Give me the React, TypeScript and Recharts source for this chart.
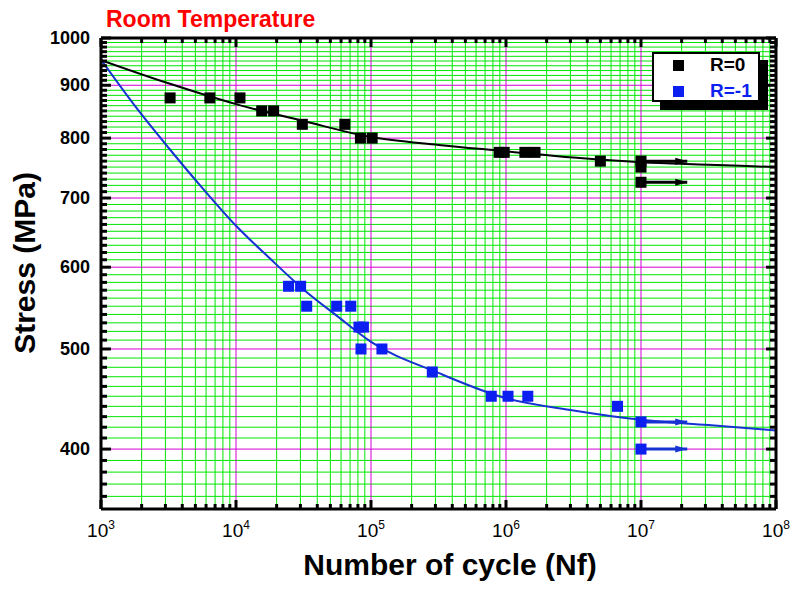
import React from 'react';
import { ComposedChart, Line, Scatter, XAxis, YAxis, CartesianGrid } from 'recharts';

const FONT = '"Liberation Sans", Arial, Helvetica, sans-serif';

// axis ticks
const cycleTicks = [1e3, 1e4, 1e5, 1e6, 1e7, 1e8];
const cycleMinor = [
  2e3, 3e3, 4e3, 5e3, 6e3, 7e3, 8e3, 9e3,
  2e4, 3e4, 4e4, 5e4, 6e4, 7e4, 8e4, 9e4,
  2e5, 3e5, 4e5, 5e5, 6e5, 7e5, 8e5, 9e5,
  2e6, 3e6, 4e6, 5e6, 6e6, 7e6, 8e6, 9e6,
  2e7, 3e7, 4e7, 5e7, 6e7, 7e7, 8e7, 9e7,
];
const stressTicks = [400, 500, 600, 700, 800, 900, 1000];
const stressMinor = [
  360, 370, 380, 390,
  410, 420, 430, 440, 450, 460, 470, 480, 490,
  510, 520, 530, 540, 550, 560, 570, 580, 590,
  610, 620, 630, 640, 650, 660, 670, 680, 690,
  710, 720, 730, 740, 750, 760, 770, 780, 790,
  810, 820, 830, 840, 850, 860, 870, 880, 890,
  910, 920, 930, 940, 950, 960, 970, 980, 990,
];

// R=0 tests
const r0Cycles = [3250, 6400, 10700, 15500, 19000, 31000, 64000, 83500, 102000, 890000, 970000, 1380000, 1640000, 5000000, 10000000, 10000000, 10000000];
const r0Stress = [875, 875, 875, 850, 850, 825, 825, 800, 800, 775, 775, 775, 775, 760, 760, 750, 725];

// R=-1 tests
const rm1Cycles = [24500, 30100, 33400, 55700, 70800, 81400, 87900, 84300, 120500, 284500, 778000, 1035000, 1450000, 6700000, 10000000, 10000000];
const rm1Stress = [575, 575, 550, 550, 550, 525, 525, 500, 500, 475, 450, 450, 450, 440, 425, 400];

// fitted curves
const r0FitCycles = [1e3, 3162, 1e4, 31620, 1e5, 316200, 1e6, 3162000, 1e7, 31620000, 1e8];
const r0FitStress = [952, 904, 863, 831, 802, 788, 777, 766, 758, 754, 750];
const rm1FitCycles = [1e3, 1778, 3162, 5623, 1e4, 17780, 31620, 56230, 1e5, 316200, 1e6, 3162000, 1e7, 31620000, 1e8];
const rm1FitStress = [953, 860, 783, 716, 658, 612, 571, 538, 508, 474, 448, 436, 427, 422, 417];

// run-outs (arrows)
const runoutStart = 1e7;
const runoutEnd = 2.2e7;
const r0Runouts = [760, 725];
const rm1Runouts = [425, 400];

const BLUE = '#0b1ff0';
const BLUE_LINE = '#1632d2';

const zip = (n: number[], s: number[]) => n.map((v, i) => ({ n: v, s: s[i] }));

const isDecade = (v: number) => Math.abs(Math.log10(v) - Math.round(Math.log10(v))) < 1e-6;

const BottomTick = (props: any) => {
  const { x, y, payload } = props;
  const major = isDecade(payload.value);
  return (
    <g>
      <line x1={x} x2={x} y1={y} y2={y - (major ? 9 : 5)} stroke="#000" strokeWidth={3} />
      {major && (
        <text x={x} y={y + 28} textAnchor="middle" fontFamily={FONT} fontSize={19} fill="#000">
          10<tspan dy={-8} fontSize={12}>{Math.round(Math.log10(payload.value))}</tspan>
        </text>
      )}
    </g>
  );
};

const TopTick = (props: any) => {
  const { x, y, payload } = props;
  const major = isDecade(payload.value);
  return <line x1={x} x2={x} y1={y} y2={y + (major ? 9 : 5)} stroke="#000" strokeWidth={3} />;
};

const LeftTick = (props: any) => {
  const { x, y, payload } = props;
  const major = stressTicks.includes(payload.value);
  return (
    <g>
      <line x1={x} x2={x + (major ? 10 : 6)} y1={y} y2={y} stroke="#000" strokeWidth={3} />
      {major && (
        <text x={x - 11} y={y + 6} textAnchor="end" fontFamily={FONT} fontWeight="bold" fontSize={18} fill="#000">
          {payload.value}
        </text>
      )}
    </g>
  );
};

const RightTick = (props: any) => {
  const { x, y, payload } = props;
  const major = stressTicks.includes(payload.value);
  return <line x1={x} x2={x - (major ? 10 : 6)} y1={y} y2={y} stroke="#000" strokeWidth={3} />;
};

const square = (color: string) => (props: any) => (
  <rect x={props.cx - 5.5} y={props.cy - 5.5} width={11} height={11} fill={color} />
);

const arrowHead = (color: string) => (props: any) => {
  const { cx, cy, index } = props;
  if (index !== 1) return <g key={`p${index}`} />;
  return (
    <polygon
      key={`p${index}`}
      points={`${cx - 12},${cy - 3.5} ${cx},${cy} ${cx - 12},${cy + 3.5}`}
      fill={color}
    />
  );
};

export default function App() {
  const allTicksX = [...cycleTicks, ...cycleMinor].sort((a, b) => a - b);
  const allTicksY = [...stressTicks, ...stressMinor].sort((a, b) => a - b);

  return (
    <div style={{ position: 'absolute', left: 0, top: 0, width: 810, height: 600, background: '#fff' }}>
      <ComposedChart width={810} height={600} margin={{ top: 30, right: 26, bottom: 61, left: 51 }}>
        <CartesianGrid stroke="#00e600" strokeWidth={1} horizontalValues={stressMinor} verticalValues={cycleMinor} />
        <CartesianGrid stroke="#d400d4" strokeWidth={1} horizontalValues={stressTicks} verticalValues={cycleTicks} />
        <XAxis
          dataKey="n"
          type="number"
          scale="log"
          domain={[1e3, 1e8]}
          allowDataOverflow
          ticks={allTicksX}
          interval={0}
          height={30}
          tickSize={0}
          tickMargin={0}
          tickLine={false}
          axisLine={{ stroke: '#000', strokeWidth: 3 }}
          tick={<BottomTick />}
        />
        <XAxis
          xAxisId="top"
          orientation="top"
          dataKey="n"
          type="number"
          scale="log"
          domain={[1e3, 1e8]}
          allowDataOverflow
          ticks={allTicksX}
          interval={0}
          height={8}
          tickSize={0}
          tickMargin={0}
          tickLine={false}
          axisLine={{ stroke: '#000', strokeWidth: 3 }}
          tick={<TopTick />}
        />
        <YAxis
          dataKey="s"
          type="number"
          scale="log"
          domain={[350, 1000]}
          allowDataOverflow
          ticks={allTicksY}
          interval={0}
          width={50}
          tickSize={0}
          tickMargin={0}
          tickLine={false}
          axisLine={{ stroke: '#000', strokeWidth: 3 }}
          tick={<LeftTick />}
        />
        <YAxis
          yAxisId="right"
          orientation="right"
          dataKey="s"
          type="number"
          scale="log"
          domain={[350, 1000]}
          allowDataOverflow
          ticks={allTicksY}
          interval={0}
          width={8}
          tickSize={0}
          tickMargin={0}
          tickLine={false}
          axisLine={{ stroke: '#000', strokeWidth: 3 }}
          tick={<RightTick />}
        />

        <Line data={zip(r0FitCycles, r0FitStress)} dataKey="s" type="monotone" stroke="#000" strokeWidth={2} dot={false} isAnimationActive={false} />
        <Line data={zip(rm1FitCycles, rm1FitStress)} dataKey="s" type="monotone" stroke={BLUE_LINE} strokeWidth={2} dot={false} isAnimationActive={false} />

        {r0Runouts.map((s) => (
          <Line
            key={`r0a${s}`}
            data={[{ n: runoutStart, s }, { n: runoutEnd, s }]}
            dataKey="s"
            type="linear"
            stroke="#000"
            strokeWidth={3}
            dot={arrowHead('#000')}
            activeDot={false}
            isAnimationActive={false}
          />
        ))}
        {rm1Runouts.map((s) => (
          <Line
            key={`rm1a${s}`}
            data={[{ n: runoutStart, s }, { n: runoutEnd, s }]}
            dataKey="s"
            type="linear"
            stroke={BLUE_LINE}
            strokeWidth={3}
            dot={arrowHead(BLUE_LINE)}
            activeDot={false}
            isAnimationActive={false}
          />
        ))}

        <Scatter data={zip(r0Cycles, r0Stress)} fill="#000" shape={square('#000')} isAnimationActive={false} />
        <Scatter data={zip(rm1Cycles, rm1Stress)} fill={BLUE} shape={square(BLUE)} isAnimationActive={false} />
      </ComposedChart>

      <svg width={810} height={600} style={{ position: 'absolute', left: 0, top: 0, pointerEvents: 'none' }}>
        <text x={106} y={27} fontFamily={FONT} fontWeight="bold" fontSize={23} fill="#ff0000">Room Temperature</text>
        <text x={450} y={575} textAnchor="middle" fontFamily={FONT} fontWeight="bold" fontSize={30} fill="#000">Number of cycle (Nf)</text>
        <text x={35} y={263} textAnchor="middle" transform="rotate(-90 35 263)" fontFamily={FONT} fontWeight="bold" fontSize={30} fill="#000">Stress (MPa)</text>

        <rect x={660} y={60} width={108} height={50} fill="#000" />
        <rect x={653} y={53} width={106} height={48} fill="#fff" stroke="#000" strokeWidth={2} />
        <rect x={673} y={60} width={11} height={11} fill="#000" />
        <text x={710} y={71} fontFamily={FONT} fontWeight="bold" fontSize={19} fill="#000">R=0</text>
        <rect x={673} y={86} width={11} height={11} fill={BLUE} />
        <text x={710} y={97} fontFamily={FONT} fontWeight="bold" fontSize={19} fill={BLUE}>R=-1</text>
      </svg>
    </div>
  );
}
